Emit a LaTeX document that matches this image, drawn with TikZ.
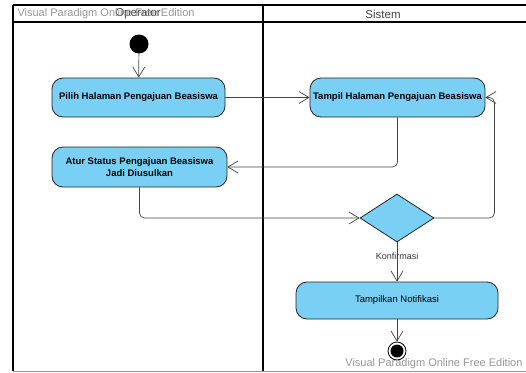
\documentclass[tikz,border=0pt]{standalone}
\usepackage{fontspec}
\setmainfont{Liberation Sans}
\usetikzlibrary{arrows.meta,shapes.geometric}
\definecolor{aktivitas}{RGB}{122,207,245}
\definecolor{garis}{RGB}{35,35,35}
\definecolor{tanda}{RGB}{150,150,150}
\begin{document}
\begin{tikzpicture}[x=1pt,y=-1pt,
    aksi/.style={rectangle, draw=garis, line width=0.8pt, fill=aktivitas, rounded corners=11pt, align=center, inner sep=0pt, font=\fontsize{9.5}{11.5}\selectfont\bfseries},
    keputusan/.style={diamond, draw=garis, line width=0.8pt, fill=aktivitas, minimum width=74pt, minimum height=48pt, inner sep=0pt},
    line/.style={draw=garis!85, line width=0.7pt, rounded corners=5pt, -{Straight Barb[length=10pt,width=12pt]}},
    lajur/.style={draw=black, line width=1.6pt},
    judul/.style={font=\fontsize{11.5}{12}\selectfont, text=black!75},
    tandaair/.style={font=\fontsize{11}{12}\selectfont, text=tanda}
  ]
    \useasboundingbox (0,0) rectangle (526,372);

    % lajur (swimlane)
    \draw [lajur] (13,5) -- (526,5);
    \draw [lajur] (13,22) -- (526,22);
    \draw [lajur] (13,5) -- (13,371);
    \draw [lajur] (263,5) -- (263,371);
    \draw [tanda, line width=1pt] (13,371) -- (526,371);
    \node [judul] (operator) at (138,14) {Operator};
    \node [judul] (sistem) at (383,14) {Sistem};
    \node [tandaair, anchor=west] (tanda1) at (14,14) {Visual Paradigm Online Free Edition};

    % aktivitas
    \node [circle, fill=black, minimum size=19pt, inner sep=0pt] (mulai) at (139,44) {};
    \node [aksi, minimum width=173pt, minimum height=39pt] (pilih) at (138.5,97.5) {Pilih Halaman Pengajuan Beasiswa};
    \node [aksi, minimum width=175pt, minimum height=39pt] (tampil) at (397.5,97.5) {Tampil Halaman Pengajuan Beasiswa};
    \node [aksi, minimum width=175pt, minimum height=40pt] (atur) at (139.5,167) {Atur Status Pengajuan Beasiswa\\Jadi Diusulkan};
    \node [keputusan] (cek) at (397,218) {};
    \node [aksi, minimum width=202pt, minimum height=37pt, font=\fontsize{9.5}{11}\selectfont] (notif) at (397,300.5) {Tampilkan Notifikasi};
    \node [circle, draw=black, line width=0.8pt, minimum size=18pt, inner sep=0pt] (selesai) at (397,351) {};
    \fill [black] (selesai.center) circle (6.5pt);
    \node [tandaair, anchor=east] (tanda2) at (526,364) {Visual Paradigm Online Free Edition};

    % alur
    \path [line] (mulai) -- (pilih);
    \path [line] (pilih) -- (tampil);
    \path [line] (tampil.south) |- (atur.east);
    \path [line] (atur.south) |- (cek.west);
    \path [line] (cek.east) -- ++(60,0) |- (tampil.east);
    \path [line] (cek) -- node [pos=0.35, inner sep=1pt, font=\fontsize{9}{10}\selectfont, text=black!80] {Konfirmasi} (notif);
    \path [line] (notif) -- (selesai);
  \end{tikzpicture}
\end{document}
